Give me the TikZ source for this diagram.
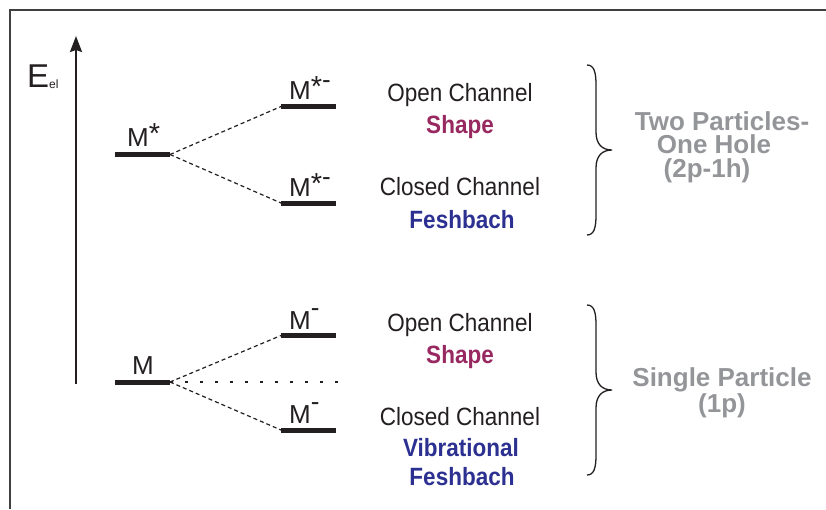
\documentclass[tikz,border=0pt]{standalone}
\usepackage{fontspec}
\setmainfont{Liberation Sans}
\newfontfamily\narrowfont[FakeStretch=0.9]{Liberation Sans}
\usetikzlibrary{arrows.meta}
\definecolor{shapered}{RGB}{152,40,96}
\definecolor{feshblue}{RGB}{44,48,145}
\definecolor{softgray}{RGB}{147,149,152}
\definecolor{ink}{RGB}{35,31,32}
\definecolor{framegray}{RGB}{64,64,64}

\begin{document}
\begin{tikzpicture}[x=1pt,y=-1pt,
  level/.style={fill=ink, draw=none, rectangle, minimum width=55pt,
    minimum height=5pt, inner sep=0pt, outer sep=0pt},
  mlabel/.style={anchor=base west, inner sep=0pt, text=ink,
    font=\fontsize{26}{26}\selectfont},
  chan/.style={anchor=base, inner sep=0pt, text=ink,
    font=\narrowfont\fontsize{25}{25}\selectfont},
  kind/.style={anchor=base, inner sep=0pt,
    font=\narrowfont\bfseries\fontsize{25}{25}\selectfont},
  group/.style={anchor=base, inner sep=0pt, text=softgray, align=center,
    font=\bfseries\fontsize{26}{23.5}\selectfont},
  split/.style={draw=ink, line width=1.2pt, dash pattern=on 4pt off 3pt},
  dotline/.style={draw=ink, line width=1.2pt, dash pattern=on 2.5pt off 12.5pt},
  axis/.style={draw=ink, line width=2pt,
    -{Stealth[length=16pt, width=12pt, inset=2pt]}},
  bracket/.style={draw=ink, line width=1.3pt},
  frame/.style={draw=framegray, line width=2pt}]

\useasboundingbox (0,0) rectangle (826,509);

% outer frame (open on the right and at the bottom)
\draw[frame] (826,9.5) -- (9.5,9.5) -- (9.5,509);

% energy axis
\coordinate (axisfoot) at (76,384);
\coordinate (axistop) at (76,36);
\draw[axis] (axisfoot) -- (axistop);
\node[anchor=base west, inner sep=0pt, text=ink, font=\fontsize{33}{33}\selectfont]
  (elabel) at (27,87) {E\raisebox{-1pt}{\fontsize{12}{12}\selectfont el}};

% excited neutral and its anion levels
\node[level] (Mstar) at (142.5,154.5) {};
\node[level] (Mstarup) at (308.5,106.5) {};
\node[level] (Mstardn) at (308.5,203) {};
\node[mlabel] (lMstar) at (127,146)
  {M\raisebox{3pt}{\fontsize{29}{29}\selectfont*}};
\node[mlabel] (lMstarup) at (289,99)
  {M\raisebox{3pt}{\fontsize{29}{29}\selectfont*}\raisebox{11pt}{-}};
\node[mlabel] (lMstardn) at (289,196)
  {M\raisebox{3pt}{\fontsize{29}{29}\selectfont*}\raisebox{11pt}{-}};
\draw[split] (Mstar.east) -- (Mstarup.west);
\draw[split] (Mstar.east) -- (Mstardn.west);

% ground-state neutral and its anion levels
\node[level] (Mg) at (142.5,382) {};
\node[level] (Mgup) at (308.5,335.5) {};
\node[level] (Mgdn) at (308.5,430) {};
\node[mlabel] (lMg) at (132,374) {M};
\node[mlabel] (lMgup) at (289,329) {M\raisebox{13pt}{-}};
\node[mlabel] (lMgdn) at (289,423) {M\raisebox{13pt}{-}};
\draw[split] (Mg.east) -- (Mgup.west);
\draw[split] (Mg.east) -- (Mgdn.west);
\coordinate (dotend) at (343,382);
\draw[dotline] (Mg.east) -- (dotend);

% channel descriptions, upper group
\node[chan] (open1) at (460,101) {Open Channel};
\node[kind, text=shapered] (shape1) at (460,133) {Shape};
\node[chan] (closed1) at (460,195) {Closed Channel};
\node[kind, text=feshblue] (fesh1) at (462,228) {Feshbach};

% channel descriptions, lower group
\node[chan] (open2) at (460,331) {Open Channel};
\node[kind, text=shapered] (shape2) at (460,363) {Shape};
\node[chan] (closed2) at (460,425) {Closed Channel};
\node[kind, text=feshblue] (vib2) at (461,456) {Vibrational};
\node[kind, text=feshblue] (fesh2) at (462,485) {Feshbach};

% curly brackets
\draw[bracket] (587,65) .. controls (594,65) and (596,72) .. (596,85)
  -- (596,132) .. controls (596,144) and (602,150) .. (612,150)
  .. controls (602,150) and (596,156) .. (596,168)
  -- (596,215) .. controls (596,228) and (594,235) .. (587,235);
\draw[bracket] (587,305) .. controls (594,305) and (596,312) .. (596,325)
  -- (596,372) .. controls (596,384) and (602,390) .. (612,390)
  .. controls (602,390) and (596,396) .. (596,408)
  -- (596,455) .. controls (596,468) and (594,475) .. (587,475);

% group names (base anchor sits on the last line)
\node[group] (twogroup) at (714,177)
  {\hspace*{16pt}Two Particles-\\One Hole\\(2p-1h)\hspace*{14pt}};
\node[group] (onegroup) at (722,412) {Single Particle\\(1p)};
\end{tikzpicture}
\end{document}
